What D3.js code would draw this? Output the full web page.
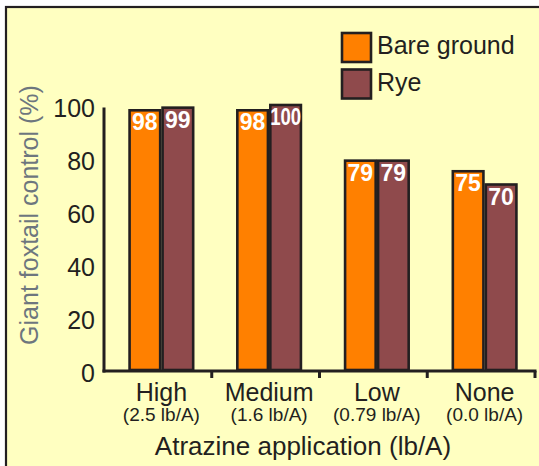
<!DOCTYPE html>
<html>
<head>
<meta charset="utf-8">
<script src="https://cdn.jsdelivr.net/npm/d3@7"></script>
<style>
  html, body { margin: 0; padding: 0; background: #ffffff; }
  svg { display: block; font-family: "Liberation Sans", Arial, Helvetica, sans-serif; }
</style>
</head>
<body>
<svg id="chart" width="539" height="466"></svg>
<script>
// ---- Data ----
const categories = ["High", "Medium", "Low", "None"];
const subLabels = ["(2.5 lb/A)", "(1.6 lb/A)", "(0.79 lb/A)", "(0.0 lb/A)"];
const seriesNames = ["Bare ground", "Rye"];
const bareGround = [98, 98, 79, 75];
const rye = [99, 100, 79, 70];
const yTicks = [0, 20, 40, 60, 80, 100];

const seriesValues = [bareGround, rye];
const colors = ["#ff8000", "#8f4a4c"];
const ink = "#231f20";

const svg = d3.select("#chart");

// frame
svg.append("rect")
  .attr("x", 6).attr("y", 7)
  .attr("width", 560).attr("height", 500)
  .attr("fill", "#ffffc1")
  .attr("stroke", ink).attr("stroke-width", 2.2);

const x0 = d3.scaleBand().domain(categories).range([104, 535]).paddingInner(0).paddingOuter(0);
const groupShift = 3.5;
const barW = 33;
const x1 = d3.scaleBand().domain(seriesNames)
  .range([x0.bandwidth() / 2 - barW, x0.bandwidth() / 2 + barW]);
const y = d3.scaleLinear().domain([0, 100]).range([370, 105]);

// bars
const data = [];
categories.forEach((c, i) => {
  seriesNames.forEach((s, j) => data.push({ c, s, j, v: seriesValues[j][i] }));
});

const g = svg.append("g");
g.selectAll("rect.bar").data(data).enter().append("rect")
  .attr("class", "bar")
  .attr("x", d => x0(d.c) + groupShift + x1(d.s) + 1.2)
  .attr("width", x1.bandwidth() - 2.4)
  .attr("y", d => y(d.v))
  .attr("height", d => y(0) - y(d.v))
  .attr("fill", d => colors[d.j])
  .attr("stroke", ink).attr("stroke-width", 2.6);

// value labels
g.selectAll("text.val").data(data).enter().append("text")
  .attr("class", "val")
  .attr("x", d => x0(d.c) + groupShift + x1(d.s) + x1.bandwidth() / 2)
  .attr("y", d => y(d.v) + 20)
  .attr("text-anchor", "middle")
  .attr("fill", "#ffffff")
  .attr("font-weight", "bold")
  .attr("font-size", 23)
  .text(d => d.v)
  .each(function () {
    const len = this.getComputedTextLength();
    const maxLen = x1.bandwidth() - 2;
    if (len > maxLen) {
      d3.select(this).attr("textLength", maxLen).attr("lengthAdjust", "spacingAndGlyphs");
    }
  });

// y axis line
svg.append("line")
  .attr("x1", 104).attr("x2", 104)
  .attr("y1", y(100) + 2.5).attr("y2", y(0) + 2.5)
  .attr("stroke", ink).attr("stroke-width", 3);

// y tick labels
svg.selectAll("text.ytick").data(yTicks).enter().append("text")
  .attr("class", "ytick")
  .attr("x", 95)
  .attr("y", d => y(d) + 3.5)
  .attr("dy", "0.35em")
  .attr("text-anchor", "end")
  .attr("font-size", 25)
  .attr("fill", ink)
  .text(d => d);

// x axis line
svg.append("line")
  .attr("x1", 102.5).attr("x2", 536.5)
  .attr("y1", y(0) + 1).attr("y2", y(0) + 1)
  .attr("stroke", ink).attr("stroke-width", 3);

// x ticks at band boundaries (except the first, where the y axis is)
const boundaries = categories.map(c => x0(c) + x0.bandwidth());
svg.selectAll("line.xtick").data(boundaries).enter().append("line")
  .attr("class", "xtick")
  .attr("x1", d => d).attr("x2", d => d)
  .attr("y1", y(0) + 1).attr("y2", y(0) + 8)
  .attr("stroke", ink).attr("stroke-width", 3);

// category labels
svg.selectAll("text.cat").data(categories).enter().append("text")
  .attr("class", "cat")
  .attr("x", d => x0(d) + x0.bandwidth() / 2 + groupShift)
  .attr("y", 400.5)
  .attr("text-anchor", "middle")
  .attr("font-size", 25)
  .attr("fill", ink)
  .text(d => d);

svg.selectAll("text.sub").data(categories).enter().append("text")
  .attr("class", "sub")
  .attr("x", d => x0(d) + x0.bandwidth() / 2 + groupShift)
  .attr("y", 421)
  .attr("text-anchor", "middle")
  .attr("font-size", 19)
  .attr("fill", ink)
  .text((d, i) => subLabels[i]);

// axis titles
svg.append("text")
  .attr("x", 303).attr("y", 455)
  .attr("text-anchor", "middle")
  .attr("font-size", 26)
  .attr("fill", ink)
  .text("Atrazine application (lb/A)");

svg.append("text")
  .attr("transform", "translate(38,215) rotate(-90)")
  .attr("text-anchor", "middle")
  .attr("font-size", 25)
  .attr("fill", "#6d767e")
  .text("Giant foxtail control (%)");

// legend
const legend = svg.append("g");
seriesNames.forEach((s, i) => {
  legend.append("rect")
    .attr("x", 342).attr("y", 33 + i * 36.5)
    .attr("width", 29).attr("height", 29)
    .attr("fill", colors[i])
    .attr("stroke", ink).attr("stroke-width", 2.6);
  legend.append("text")
    .attr("x", 377).attr("y", 53.5 + i * 37)
    .attr("font-size", 25)
    .attr("fill", ink)
    .text(s);
});
</script>
</body>
</html>
